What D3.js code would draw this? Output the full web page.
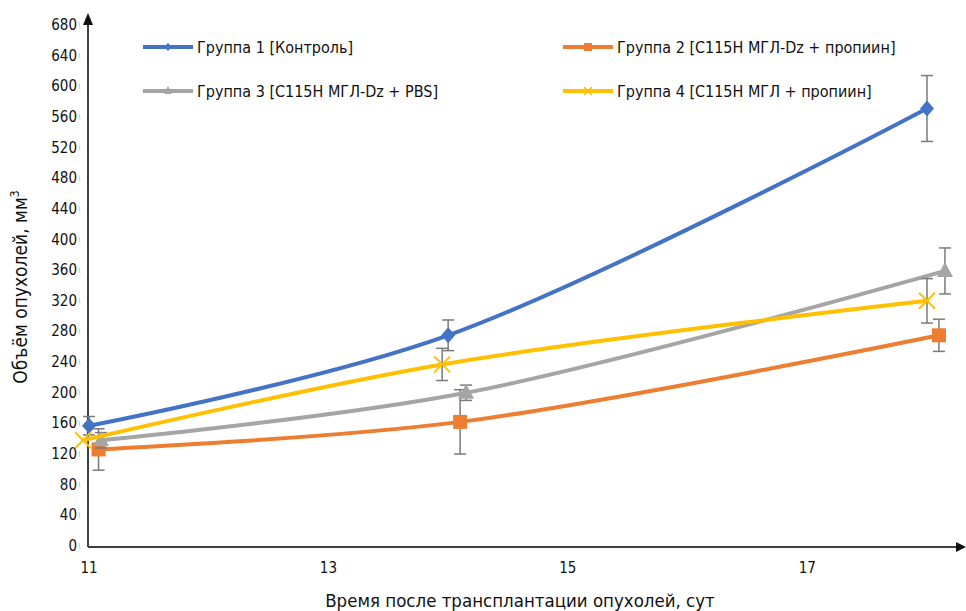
<!DOCTYPE html>
<html>
<head>
<meta charset="utf-8">
<script src="https://cdn.jsdelivr.net/npm/d3@7"></script>
<style>
  body { margin: 0; background: #fff; }
  text { font-family: "Liberation Sans Narrow", "DejaVu Sans Condensed", sans-serif; fill: #111; }
</style>
</head>
<body>
<div id="chart"></div>
<script>
const width = 966, height = 611;

// data: days, volumes (mm3), errors
const seriesNames = [
    "Группа 1 [Контроль]",
    "Группа 2 [C115H МГЛ-Dz + пропиин]",
    "Группа 3 [C115H МГЛ-Dz + PBS]",
    "Группа 4 [C115H МГЛ + пропиин]"
];
const colors = ["#4472C4", "#ED7D31", "#A5A5A5", "#FFC000"];
const markers = ["diamond", "square", "triangle", "cross"];

const days1 = [11, 14, 18];
const vals1 = [157, 275, 571];
const err1 = [12, 20, 43];

const days2 = [11.08, 14.1, 18.1];
const vals2 = [126, 162, 275];
const err2 = [27, 42, 21];

const days3 = [11.1, 14.15, 18.15];
const vals3 = [138, 200, 359];
const err3 = [10, 10, 30];

const days4 = [10.95, 13.95, 18];
const vals4 = [138, 237, 320];
const err4 = [0, 21, 29];

const xTicks = [11, 13, 15, 17];
const yTicks = d3.range(0, 681, 40);

const series = [
    { days: days1, vals: vals1, err: err1 },
    { days: days2, vals: vals2, err: err2 },
    { days: days3, vals: vals3, err: err3 },
    { days: days4, vals: vals4, err: err4 }
];

const svg = d3.select("#chart")
    .append("svg")
    .attr("width", width)
    .attr("height", height);

const x = d3.scaleLinear().domain([11, 18]).range([89, 927]);
const y = d3.scaleLinear().domain([0, 680]).range([546, 25]);

// axes
svg.append("line")
    .attr("x1", 88).attr("x2", 958)
    .attr("y1", 547).attr("y2", 547)
    .attr("stroke", "#404040").attr("stroke-width", 2);
svg.append("path")
    .attr("d", "M966,547 L956,542 L956,552 Z")
    .attr("fill", "#111");
svg.append("line")
    .attr("x1", 88).attr("x2", 88)
    .attr("y1", 547).attr("y2", 22)
    .attr("stroke", "#404040").attr("stroke-width", 2);
svg.append("path")
    .attr("d", "M88,13 L83,25 L93,25 Z")
    .attr("fill", "#111");

// y ticks
svg.selectAll(".ytick")
    .data(yTicks)
    .enter()
    .append("text")
    .attr("x", 77)
    .attr("y", d => y(d) + 5)
    .attr("text-anchor", "end")
    .attr("font-size", 15)
    .text(d => d);
svg.selectAll(".ymark")
    .data(yTicks)
    .enter()
    .append("line")
    .attr("x1", 79).attr("x2", 80)
    .attr("y1", d => y(d) - 3).attr("y2", d => y(d) + 3)
    .attr("stroke", "#ccc");

// x ticks
svg.selectAll(".xtick")
    .data(xTicks)
    .enter()
    .append("text")
    .attr("x", d => x(d))
    .attr("y", 573)
    .attr("text-anchor", "middle")
    .attr("font-size", 15)
    .text(d => d);

// axis titles
svg.append("text")
    .attr("x", 520).attr("y", 607)
    .attr("text-anchor", "middle")
    .attr("font-size", 18.5)
    .text("Время после трансплантации опухолей, сут");

const yt = svg.append("text")
    .attr("transform", "translate(27,287) rotate(-90)")
    .attr("text-anchor", "middle")
    .attr("font-size", 19);
yt.append("tspan").text("Объём опухолей, мм");
yt.append("tspan").attr("dy", -8).attr("font-size", 12).text("3");

// lines
const line = d3.line()
    .x(d => x(d[0]))
    .y(d => y(d[1]))
    .curve(d3.curveCatmullRom.alpha(0.5));

function drawMarker(g, type, cx, cy, color) {
    if (type === "diamond") {
        g.append("path")
            .attr("d", `M${cx},${cy - 8} L${cx + 7},${cy} L${cx},${cy + 8} L${cx - 7},${cy} Z`)
            .attr("fill", color);
    } else if (type === "square") {
        g.append("rect")
            .attr("x", cx - 7).attr("y", cy - 7)
            .attr("width", 14).attr("height", 14)
            .attr("fill", color);
    } else if (type === "triangle") {
        g.append("path")
            .attr("d", `M${cx},${cy - 9} L${cx + 8},${cy + 6} L${cx - 8},${cy + 6} Z`)
            .attr("fill", color);
    } else {
        g.append("path")
            .attr("d", `M${cx - 8},${cy - 8} L${cx + 8},${cy + 8} M${cx - 8},${cy + 8} L${cx + 8},${cy - 8}`)
            .attr("stroke", color).attr("stroke-width", 2).attr("fill", "none");
    }
}

series.forEach((s, i) => {
    const pts = s.days.map((d, j) => [d, s.vals[j]]);
    const g = svg.append("g");
    g.append("path")
        .attr("d", line(pts))
        .attr("fill", "none")
        .attr("stroke", colors[i])
        .attr("stroke-width", 4)
        .attr("stroke-linecap", "round");

    // error bars
    pts.forEach((p, j) => {
        const e = s.err[j];
        if (!e) return;
        const cx = x(p[0]);
        g.append("line")
            .attr("x1", cx).attr("x2", cx)
            .attr("y1", y(p[1] + e)).attr("y2", y(p[1] - e))
            .attr("stroke", "#7a7a7a").attr("stroke-width", 1.5);
        [p[1] + e, p[1] - e].forEach(v => {
            g.append("line")
                .attr("x1", cx - 6).attr("x2", cx + 6)
                .attr("y1", y(v)).attr("y2", y(v))
                .attr("stroke", "#7a7a7a").attr("stroke-width", 1.5);
        });
    });

    pts.forEach(p => drawMarker(g, markers[i], x(p[0]), y(p[1]), colors[i]));
});

// legend
const legendPos = [[143, 47], [563, 47], [143, 91], [563, 91]];
seriesNames.forEach((name, i) => {
    const [lx, ly] = legendPos[i];
    const g = svg.append("g");
    g.append("line")
        .attr("x1", lx).attr("x2", lx + 50)
        .attr("y1", ly).attr("y2", ly)
        .attr("stroke", colors[i]).attr("stroke-width", 4);
    const m = markers[i];
    const cx = lx + 25;
    if (m === "diamond") {
        g.append("path").attr("d", `M${cx},${ly - 4} L${cx + 4},${ly} L${cx},${ly + 4} L${cx - 4},${ly} Z`).attr("fill", colors[i]);
    } else if (m === "square") {
        g.append("rect").attr("x", cx - 4).attr("y", ly - 4).attr("width", 8).attr("height", 8).attr("fill", colors[i]);
    } else if (m === "triangle") {
        g.append("path").attr("d", `M${cx},${ly - 5} L${cx + 4},${ly + 3} L${cx - 4},${ly + 3} Z`).attr("fill", colors[i]);
    } else {
        g.append("path").attr("d", `M${cx - 4},${ly - 4} L${cx + 4},${ly + 4} M${cx - 4},${ly + 4} L${cx + 4},${ly - 4}`)
            .attr("stroke", colors[i]).attr("stroke-width", 1.5);
    }
    g.append("text")
        .attr("x", lx + 54)
        .attr("y", ly + 6)
        .attr("font-size", 16)
        .text(name);
});
</script>
</body>
</html>
